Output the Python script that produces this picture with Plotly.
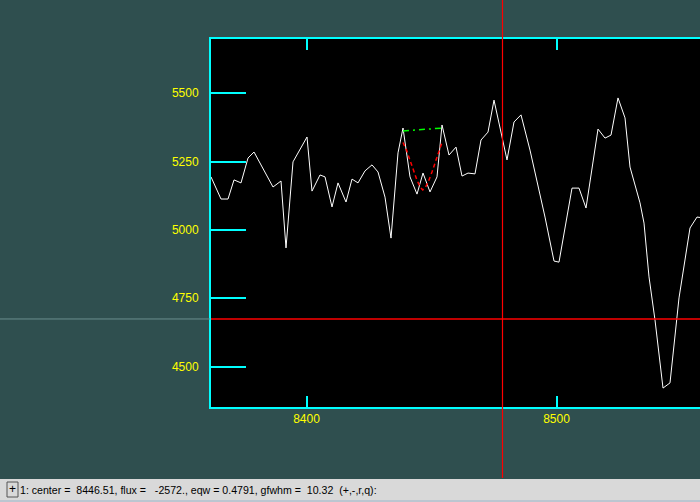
import plotly.graph_objects as go

# Spectrum (wavelength, flux)
wave = [8361.8, 8365.8, 8368.6, 8371.0, 8373.8, 8376.6, 8379.0, 8384.2, 8386.6, 8389.8,
        8391.8, 8394.6, 8397.4, 8400.2, 8402.2, 8405.4, 8407.4, 8410.2, 8412.6, 8415.8,
        8418.2, 8420.6, 8423.4, 8426.2, 8428.6, 8431.4, 8433.8, 8436.6, 8438.6, 8441.4,
        8444.2, 8446.6, 8449.4, 8452.2, 8454.2, 8457.0, 8459.8, 8462.2, 8464.6, 8467.4,
        8469.8, 8472.6, 8475.0, 8478.2, 8480.2, 8483.0, 8485.8, 8489.4, 8495.4, 8499.0,
        8501.0, 8506.2, 8509.0, 8511.8, 8516.6, 8519.4, 8521.8, 8524.6, 8527.4, 8529.4,
        8533.4, 8535.0, 8537.0, 8539.4, 8542.6, 8545.4, 8548.2, 8549.0, 8553.4, 8556.2,
        8559.4]
flux = [5194, 5113, 5113, 5183, 5172, 5263, 5285, 5194, 5157, 5179,
        4934, 5249, 5292, 5340, 5142, 5201, 5194, 5084, 5172, 5102,
        5186, 5172, 5216, 5238, 5212, 5120, 4970, 5282, 5373, 5194,
        5131, 5208, 5139, 5194, 5384, 5274, 5303, 5197, 5208, 5205,
        5329, 5358, 5475, 5347, 5256, 5395, 5421, 5292, 5047, 4886,
        4882, 5153, 5153, 5080, 5369, 5336, 5347, 5483, 5410, 5230,
        5099, 5025, 4828, 4670, 4421, 4440, 4670, 4751, 5007, 5047,
        5043]

# Gaussian fit (as drawn)
fit_wave = [8438.6, 8440.0, 8441.4, 8442.8, 8444.2, 8445.4, 8446.5, 8447.6, 8448.8,
            8450.2, 8451.6, 8453.0, 8454.4]
fit_flux = [5320, 5292, 5255, 5215, 5182, 5158, 5146, 5156, 5178, 5212, 5250, 5290, 5325]

# Continuum
cont_wave = [8438.6, 8454.6]
cont_flux = [5362, 5373]

# Cursor position
cursor_x = 8478.4
cursor_y = 4674

x_range = [8361.8, 8557.4]
y_range = [4351.8, 5698.7]
x_ticks = [8400, 8500]
y_ticks = [4500, 4750, 5000, 5250, 5500]

status_text = ("1: center =\u00a0 8446.51, flux =\u00a0\u00a0 -2572., eqw = 0.4791, "
               "gfwhm =\u00a0 10.32\u00a0 (+,-,r,q):")

fig = go.Figure()
fig.add_trace(go.Scatter(x=wave, y=flux, mode="lines",
                         line=dict(color="white", width=1), hoverinfo="skip"))
fig.add_trace(go.Scatter(x=fit_wave, y=fit_flux, mode="lines",
                         line=dict(color="#ff0000", width=1.5, dash="4px,3px"), hoverinfo="skip"))
fig.add_trace(go.Scatter(x=cont_wave, y=cont_flux, mode="lines",
                         line=dict(color="#00ff00", width=1.5, dash="6px,4px,2px,4px"),
                         hoverinfo="skip"))

W, H = 700, 502
L, R, T, B = 211, 0, 39, 95
pw, ph = W - L - R, H - T - B


def px(xp):
    return (xp - L) / pw


def py(yp):
    return (H - B - yp) / ph


shapes = [
    # horizontal cursor line: outside (grey) and inside (red)
    dict(type="line", xref="paper", yref="y", x0=px(0), x1=px(210), y0=cursor_y, y1=cursor_y,
         line=dict(color="#6b8e8e", width=1)),
    dict(type="line", xref="paper", yref="y", x0=0, x1=1, y0=cursor_y, y1=cursor_y,
         line=dict(color="#ff0000", width=1.5)),
    # vertical cursor line
    dict(type="line", xref="x", yref="paper", x0=cursor_x, x1=cursor_x, y0=py(478), y1=py(0),
         line=dict(color="#ff0000", width=1.2)),
    # status bar
    dict(type="rect", xref="paper", yref="paper", x0=px(0), x1=px(700), y0=py(502), y1=py(479),
         fillcolor="#d9d9d9", line=dict(width=0), layer="above"),
    dict(type="line", xref="paper", yref="paper", x0=px(0), x1=px(700), y0=py(501), y1=py(501),
         line=dict(color="#9fb3c8", width=1)),
    dict(type="rect", xref="paper", yref="paper", x0=px(7), x1=px(18), y0=py(497), y1=py(482),
         fillcolor="#d9d9d9", line=dict(color="#555555", width=1)),
]

annotations = [
    dict(text="+", xref="paper", yref="paper", x=px(12.5), y=py(489.5), showarrow=False,
         xanchor="center", yanchor="middle", font=dict(family="Liberation Sans", size=12, color="black")),
    dict(text=status_text, xref="paper", yref="paper", x=px(18), y=py(490), showarrow=False,
         xanchor="left", yanchor="middle", font=dict(family="Liberation Sans", size=10.6, color="black")),
]

axis_common = dict(showline=True, linecolor="#00ffff", linewidth=2, ticks="inside",
                   tickcolor="#00ffff", tickwidth=2, showgrid=False, zeroline=False,
                   tickfont=dict(family="Liberation Sans", size=12, color="#ffff00"))

fig.update_layout(
    width=W, height=H, margin=dict(l=L, r=R, t=T, b=B, pad=0),
    paper_bgcolor="#2f4f4f", plot_bgcolor="black", showlegend=False,
    shapes=shapes, annotations=annotations,
    xaxis=dict(range=x_range, tickvals=x_ticks, ticklen=11, mirror="ticks",
               ticklabelstandoff=0, **axis_common),
    yaxis=dict(range=y_range, tickvals=y_ticks, ticklen=35, mirror=False,
               ticklabelstandoff=8, **axis_common),
)

fig.write_html("out.html")
